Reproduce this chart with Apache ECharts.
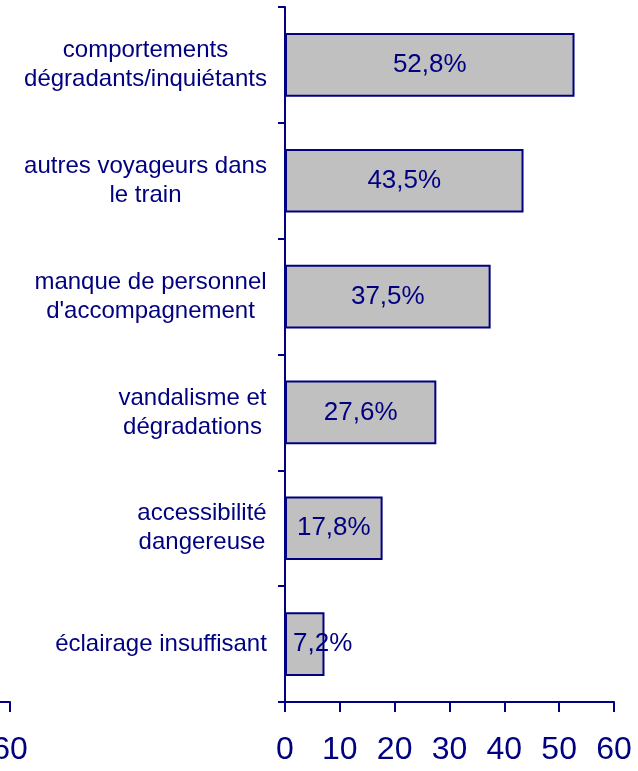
<!DOCTYPE html>
<html>
<head>
<meta charset="utf-8">
<script src="https://cdn.jsdelivr.net/npm/echarts@6/dist/echarts.min.js"></script>
<style>
  html, body { margin: 0; padding: 0; background: #fff; }
  #chart { width: 638px; height: 771px; }
</style>
</head>
<body>
<div id="chart"></div>
<script>
var categories = [
  'comportements\ndégradants/inquiétants',
  'autres voyageurs dans\nle train',
  'manque de personnel\nd\'accompagnement',
  'vandalisme et\ndégradations',
  'accessibilité\ndangereuse',
  'éclairage insuffisant'
];
var values = [52.8, 43.5, 37.5, 27.6, 17.8, 7.2];
var xTicks = [0, 10, 20, 30, 40, 50, 60];
// fin de l'axe du panneau voisin, coupé à gauche
var leftPanelEnd = [60];

var navy = '#000080';
var font = '"Liberation Sans", Arial, sans-serif';

// chaque ligne d'une étiquette est centrée dans un bloc aligné à droite
var ctx = document.createElement('canvas').getContext('2d');
ctx.font = '24px ' + font;
var rich = {};
categories.forEach(function (c, i) {
  var w = 0;
  c.split('\n').forEach(function (l) { w = Math.max(w, ctx.measureText(l).width); });
  rich['c' + i] = { width: Math.ceil(w) + 2, align: 'center', fontSize: 24, lineHeight: 29, color: navy, fontFamily: font };
});

var lineStyle = { color: navy, width: 2 };
var xLabel = { color: navy, fontSize: 32, fontFamily: font, margin: 32 };

var myChart = echarts.init(document.getElementById('chart'));
myChart.setOption({
  animation: false,
  grid: [
    { left: 285, top: 7, width: 329, height: 695, outerBoundsMode: 'none' },
    { left: 0, top: 7, width: 10, height: 695, outerBoundsMode: 'none' }
  ],
  xAxis: [
    {
      type: 'value', gridIndex: 0,
      min: xTicks[0], max: xTicks[xTicks.length - 1], interval: 10,
      splitLine: { show: false },
      axisLine: { show: true, lineStyle: lineStyle },
      axisTick: { show: true, length: 10, lineStyle: lineStyle },
      axisLabel: xLabel
    },
    {
      // 10 px de l'axe voisin = 10 / 54.83 unités
      type: 'value', gridIndex: 1,
      min: leftPanelEnd[0] - 10 / 54.83, max: leftPanelEnd[0],
      splitLine: { show: false },
      axisLine: { show: true, onZero: false, lineStyle: lineStyle },
      axisTick: { show: true, length: 10, lineStyle: lineStyle, customValues: leftPanelEnd },
      axisLabel: Object.assign({ customValues: leftPanelEnd }, xLabel)
    }
  ],
  yAxis: [
    {
      type: 'category', gridIndex: 0, inverse: true, data: categories,
      axisLine: { lineStyle: lineStyle },
      axisTick: { show: true, length: 7, lineStyle: lineStyle },
      axisLabel: {
        margin: 17, interval: 0, rich: rich,
        formatter: function (v, idx) {
          return v.split('\n').map(function (l) { return '{c' + idx + '|' + l + '}'; }).join('\n');
        }
      }
    },
    {
      type: 'category', gridIndex: 1, data: categories,
      axisLine: { show: false }, axisTick: { show: false }, axisLabel: { show: false }
    }
  ],
  series: [{
    type: 'bar',
    xAxisIndex: 0, yAxisIndex: 0,
    barCategoryGap: '45%',
    itemStyle: { color: '#c0c0c0', borderColor: navy, borderWidth: 2 },
    label: {
      show: true, position: 'inside', color: navy, fontSize: 26, fontFamily: font,
      formatter: function (p) { return p.value.toFixed(1).replace('.', ',') + '%'; }
    },
    data: values.map(function (v) {
      var d = { value: v };
      if (v < 10) d.label = { position: 'insideLeft', distance: 8 };
      return d;
    })
  }]
});
</script>
</body>
</html>
